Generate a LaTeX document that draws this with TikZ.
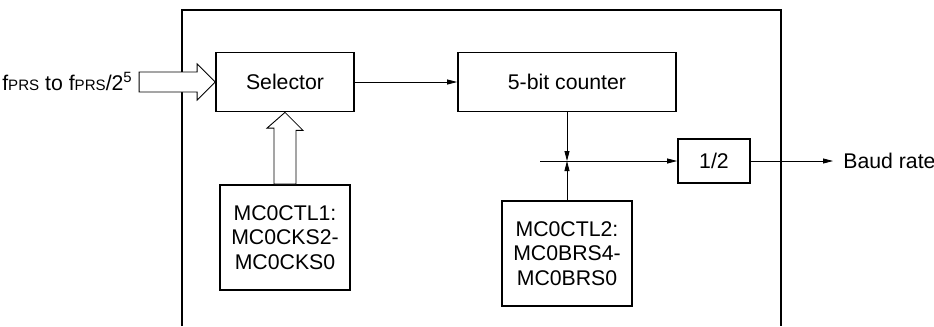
\documentclass[tikz,border=0pt]{standalone}
\usepackage{fontspec}
\setmainfont{Liberation Sans}
\usetikzlibrary{arrows.meta}

\begin{document}
\begin{tikzpicture}[
  x=0.02cm, y=-0.02cm,
  font=\fontsize{12.1}{13.9}\selectfont,
  block/.style={draw, line width=1pt, align=center, inner sep=0pt},
  frame/.style={draw, line width=1.1pt},
  arrow/.style={-{Triangle[length=0.2cm, width=0.1cm]}, draw, line width=.45pt},
  hollow/.style={draw, fill=white, line width=.5pt, line join=miter},
  sub/.style={font=\fontsize{8.6}{10}\selectfont}
]
\useasboundingbox (0,0) rectangle (934,326);

% Frame around the baud rate generator (open at the bottom).
\draw[frame] (182,326) |- (781,10) -- (781,326);

\node[block, minimum width=2.76cm, minimum height=1.18cm] (sel) at (285,82) {Selector};
\node[block, minimum width=4.36cm, minimum height=1.18cm] (cnt) at (567,82) {5-bit counter};
\node[block, minimum width=2.6cm, minimum height=2.1cm] (ctl1) at (285,237.5)
  {MC0CTL1:\\MC0CKS2-\\MC0CKS0};
\node[block, minimum width=2.6cm, minimum height=2.1cm] (ctl2) at (567,253.5)
  {MC0CTL2:\\MC0BRS4-\\MC0BRS0};
\node[block, minimum width=1.44cm, minimum height=.88cm] (half) at (714,161) {1/2};

\node[anchor=base east, inner sep=0pt] (fin) at (133,90)
  {f{\fontsize{8.6}{10}\selectfont PRS} to f{\fontsize{8.6}{10}\selectfont PRS}/2\textsuperscript{5}};
\node[anchor=west, inner sep=0pt] (baud) at (843,161) {Baud rate};

% Hollow bus arrows.
\draw[hollow] (sel.west) -- ++(-18,-18) -- ++(0,8) -- ++(-58,0) -- ++(0,20)
  -- ++(58,0) -- ++(0,8) -- cycle;
\draw[hollow] (sel.south) -- ++(18,18) -- ++(-7,0) -- (ctl1.north -| 296,0)
  -- (ctl1.north -| 274,0) -- ++(0,-56) -- ++(-7,0) -- cycle;

\draw[arrow] (sel.east) -- (cnt.west);
\coordinate (tap) at (540,161);
\coordinate (jn) at (cnt.south |- tap);
\draw[arrow] (cnt.south) -- (jn);
\draw[arrow] (ctl2.north) -- (jn);
\draw[arrow] (tap) -- (half.west);
\draw[arrow, shorten >=0.2cm] (half.east) -- (baud.west);
\end{tikzpicture}
\end{document}
